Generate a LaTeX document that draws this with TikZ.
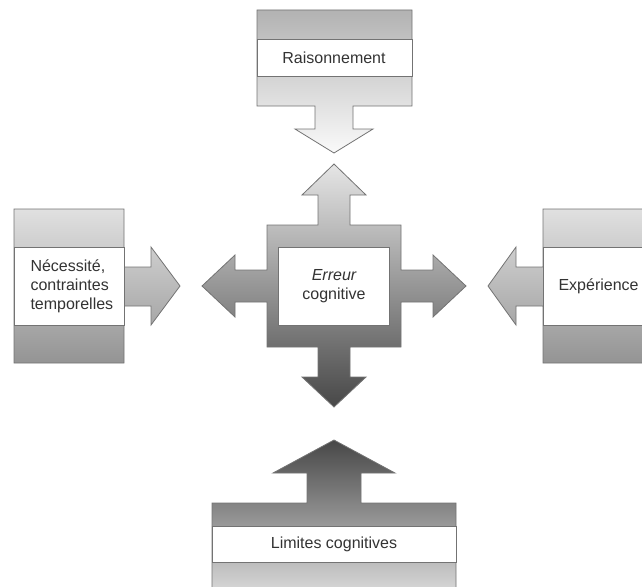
\documentclass[tikz,border=0pt]{standalone}
\usepackage{fontspec}
\setmainfont{Liberation Sans}
\begin{document}
\begin{tikzpicture}[x=1pt,y=-1pt,
    block/.style={draw=black!55,line width=0.8pt},
    band/.style={draw=black!55,line width=0.8pt,fill=white},
    txt/.style={font=\fontsize{16}{19}\selectfont,text=black!80}]
  \useasboundingbox (0,0) rectangle (642,586);
  % Raisonnement
  \draw[block,top color=black!30,bottom color=black!2]
    (257,10) -- (412,10) -- (412,106) -- (353,106) -- (353,129) -- (373,129)
    -- (334,153) -- (295,129) -- (315,129) -- (315,106) -- (257,106) -- cycle;
  \draw[band] (257,39) rectangle (412,76);
  \node[txt] (rais) at (334,57.5) {Raisonnement};
  % centre
  \draw[block,top color=black!10,bottom color=black!72]
    (267,225) -- (318,225) -- (318,195) -- (302,195) -- (334,164) -- (366,195)
    -- (350,195) -- (350,225) -- (401,225) -- (401,270) -- (433,270) -- (433,255)
    -- (466,286) -- (433,317) -- (433,302) -- (401,302) -- (401,347) -- (350,347)
    -- (350,377) -- (366,377) -- (334,407) -- (302,377) -- (318,377) -- (318,347)
    -- (267,347) -- (267,302) -- (235,302) -- (235,317) -- (202,286) -- (235,255)
    -- (235,270) -- (267,270) -- cycle;
  \draw[band] (278,247) rectangle (389,325);
  \node[txt,align=center] (err) at (334,286) {\itshape Erreur\\cognitive};
  % Necessite
  \draw[block,top color=black!12,bottom color=black!42]
    (14,209) -- (124,209) -- (124,267) -- (151,267) -- (151,247) -- (180,286)
    -- (151,325) -- (151,306) -- (124,306) -- (124,363) -- (14,363) -- cycle;
  \draw[band] (14,247) rectangle (124,325);
  \node[txt,align=left,anchor=west] (nec) at (27,286) {Nécessité,\\contraintes\\temporelles};
  % Experience
  \draw[block,top color=black!12,bottom color=black!42]
    (543,209) -- (660,209) -- (660,363) -- (543,363) -- (543,306) -- (516,306)
    -- (516,325) -- (488,286) -- (516,247) -- (516,267) -- (543,267) -- cycle;
  \draw[band] (543,247) rectangle (660,325);
  \node[txt,anchor=west] (exp) at (555,286) {Expérience};
  % Limites cognitives
  \draw[block,top color=black!72,bottom color=black!12]
    (212,503) -- (307,503) -- (307,473) -- (273,473) -- (334,440) -- (395,473)
    -- (361,473) -- (361,503) -- (456,503) -- (456,600) -- (212,600) -- cycle;
  \draw[band] (212,526) rectangle (456,562);
  \node[txt] (lim) at (334,544) {Limites cognitives};
\end{tikzpicture}
\end{document}
